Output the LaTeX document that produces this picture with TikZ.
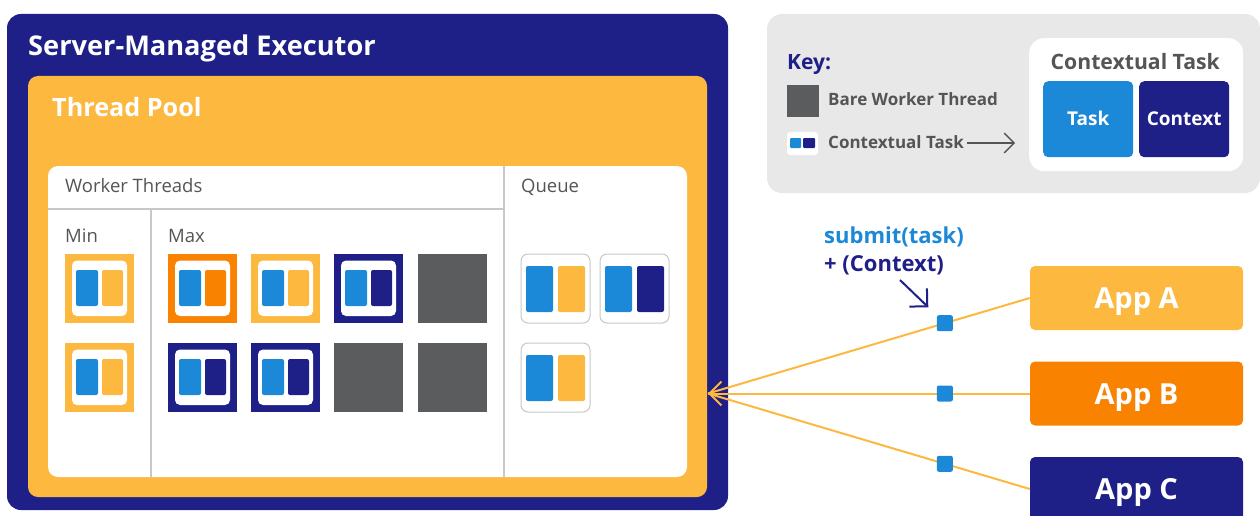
\documentclass[tikz,border=0pt]{standalone}
\usepackage{fontspec}
\setmainfont{Open Sans}
\usetikzlibrary{arrows.meta}
\definecolor{navy}{HTML}{1E2088}
\definecolor{lorange}{HTML}{FDB840}
\definecolor{dorange}{HTML}{F98200}
\definecolor{tblue}{HTML}{1C88D8}
\definecolor{bare}{HTML}{5B5C5E}
\definecolor{txtgray}{HTML}{555555}
\definecolor{keybg}{HTML}{E8E8E8}
\definecolor{divgray}{HTML}{C8C8C8}
\newcommand{\fsz}[1]{\fontsize{#1}{#1}\selectfont}
\tikzset{
  lbl/.style={anchor=base west, inner sep=0pt},
  pics/thread/.style={code={
    \fill[#1] (0,0) rectangle (69,69);
    \fill[white, rounded corners=5] (7,6.5) rectangle (62,62);
    \fill[tblue, rounded corners=2] (11,16) rectangle (33,52);
    \fill[#1, rounded corners=2] (37,16) rectangle (58,52);
  }},
  pics/barethread/.style={code={
    \fill[bare] (0,0) rectangle (69,69);
  }},
  pics/queued/.style={code={
    \draw[divgray, fill=white, line width=1, rounded corners=7] (0,0) rectangle (69,69);
    \fill[tblue, rounded corners=2] (5,12) rectangle (32,58);
    \fill[#1, rounded corners=2] (37,12) rectangle (64,58);
  }},
  appbox/.style={anchor=center, minimum width=213pt, minimum height=64pt, rounded corners=5,
    text=white, font=\fsz{29}\bfseries, inner sep=0pt, text height=21pt, text depth=0pt},
  ctxpart/.style={anchor=north west, rounded corners=5, minimum width=90pt, minimum height=76pt,
    inner sep=0pt, text=white, font=\fsz{19}\bfseries, text height=13.5pt, text depth=0pt},
  sq/.style={fill=tblue, minimum size=16pt, inner sep=0pt, rounded corners=2},
  conn/.style={lorange, line width=2},
}
\begin{document}
\begin{tikzpicture}[x=1pt,y=-1pt]
\useasboundingbox (0,0) rectangle (1260,516);
% containers
\fill[navy, rounded corners=14] (7,14) rectangle (728,510);
\fill[lorange, rounded corners=10] (28,76) rectangle (707,497);
\fill[white, rounded corners=10] (48,166) rectangle (687,477);
\draw[divgray, line width=1.5] (504,166) -- (504,477);
\draw[divgray, line width=1.5] (48,209) -- (504,209);
\draw[divgray, line width=1.5] (151,209) -- (151,477);
% titles
\node[lbl, text=white, font=\fsz{27.2}\bfseries] (exec) at (28,56) {Server-Managed Executor};
\node[lbl, text=white, font=\fsz{25.2}\bfseries] (pool) at (52,117) {Thread Pool};
\node[lbl, text=txtgray, font=\fsz{18.5}] (wt) at (65,192) {Worker Threads};
\node[lbl, text=txtgray, font=\fsz{18.5}] (queue) at (521,192) {Queue};
\node[lbl, text=txtgray, font=\fsz{18.5}] (min) at (65,242) {Min};
\node[lbl, text=txtgray, font=\fsz{18.5}] (max) at (168,242) {Max};
% worker threads
\pic at (65,254) {thread=lorange};
\pic at (65,343) {thread=lorange};
\pic at (168,254) {thread=dorange};
\pic at (251,254) {thread=lorange};
\pic at (334,254) {thread=navy};
\pic at (418,254) {barethread};
\pic at (168,343) {thread=navy};
\pic at (251,343) {thread=navy};
\pic at (334,343) {barethread};
\pic at (418,343) {barethread};
% queue
\pic at (521,254) {queued=lorange};
\pic at (600,254) {queued=navy};
\pic at (521,343) {queued=lorange};
% key
\fill[keybg, rounded corners=15] (767,14) rectangle (1260,193);
\node[lbl, text=navy, font=\fsz{21}\bfseries] (key) at (787,70) {Key:};
\fill[bare] (787,85) rectangle (819,117);
\node[lbl, text=txtgray, font=\fsz{17}\bfseries] (keybare) at (828,106) {Bare Worker Thread};
\fill[white, rounded corners=3] (787,132) rectangle (818,155);
\fill[tblue, rounded corners=1] (790,138) rectangle (801,148);
\fill[navy, rounded corners=1] (803,138) rectangle (815,148);
\node[lbl, text=txtgray, font=\fsz{17}\bfseries] (keyctx) at (828,148) {Contextual Task};
\node[anchor=north west, fill=white, rounded corners=15, minimum width=214pt, minimum height=133pt, inner sep=0pt] (ctxbox) at (1029,38) {};
\node[lbl, text=txtgray, font=\fsz{21.2}\bfseries] (ctxtitle) at (1050.5,70) {Contextual Task};
\node[ctxpart, fill=tblue] (task) at (1043,81) {Task};
\node[ctxpart, fill=navy] (context) at (1139,81) {Context};
\draw[txtgray, line width=1.3, -{Straight Barb[angle=90:14pt]}] (967,143) -- (1015,143);
% apps
\node[appbox, fill=lorange] (appA) at (1136.5,298) {App A};
\node[appbox, fill=dorange] (appB) at (1136.5,393.5) {App B};
\node[appbox, fill=navy] (appC) at (1136.5,489) {App C};
\coordinate (tip) at (708,393.5);
\draw[conn] (appA.west) -- node[pos=0.264, sq] (sqA) {} (tip);
\draw[conn, -{Straight Barb[angle=90:17pt]}] (appB.west) -- node[pos=0.264, sq] (sqB) {} (tip);
\draw[conn] (appC.west) -- node[pos=0.264, sq] (sqC) {} (tip);
% submit label
\node[lbl, text=tblue, font=\fsz{22}\bfseries] (submit) at (824,243) {submit(task)};
\node[lbl, text=navy, font=\fsz{22}\bfseries] (plusctx) at (824,271) {+ (Context)};
\coordinate (sa) at (900,280);
\draw[navy, line width=2, shorten >=23pt, -{Straight Barb[angle=90:18pt]}] (sa) -- (sqA.center);
\end{tikzpicture}
\end{document}
